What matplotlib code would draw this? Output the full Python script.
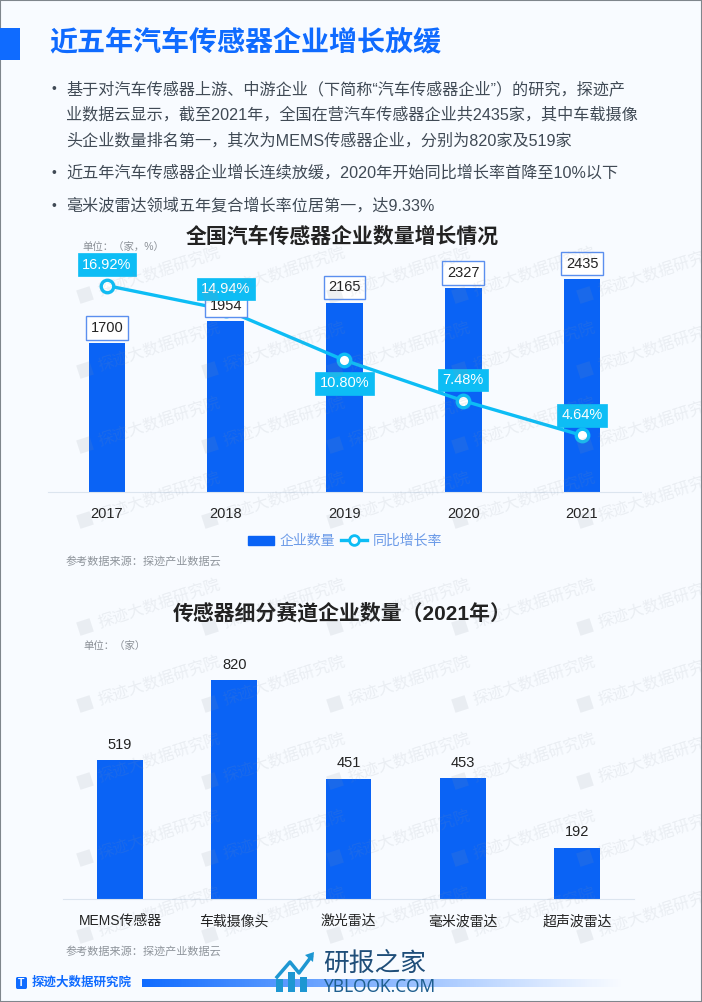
# -*- coding: utf-8 -*-
import numpy as np
from matplotlib import pyplot as plt
from matplotlib.patches import Rectangle, FancyBboxPatch, Polygon
from matplotlib.lines import Line2D
from matplotlib.transforms import Affine2D

plt.rcParams['font.family'] = ['Liberation Sans', 'Noto Sans CJK SC', 'DejaVu Sans']

page_title = '近五年汽车传感器企业增长放缓'
bullets = ['基于对汽车传感器上游、中游企业（下简称“汽车传感器企业”）的研究，探迹产',
           '业数据云显示，截至2021年，全国在营汽车传感器企业共2435家，其中车载摄像',
           '头企业数量排名第一，其次为MEMS传感器企业，分别为820家及519家',
           '近五年汽车传感器企业增长连续放缓，2020年开始同比增长率首降至10%以下',
           '毫米波雷达领域五年复合增长率位居第一，达9.33%']
years = ['2017', '2018', '2019', '2020', '2021']
firm_count = [1700, 1954, 2165, 2327, 2435]
growth_rate = [16.92, 14.94, 10.80, 7.48, 4.64]
segments = ['MEMS传感器', '车载摄像头', '激光雷达', '毫米波雷达', '超声波雷达']
segment_count = [519, 820, 451, 453, 192]

BLUE = '#0A63F5'
CYAN = '#0DBDF5'
BG = '#F8FBFF'
W, H = 702, 1002


def fx(x):
    return x / W


def fy(y):
    return 1 - y / H


def axes_px(left, top, right, bottom):
    return fig.add_axes([fx(left), fy(bottom), (right - left) / W, (bottom - top) / H])


fig = plt.figure(figsize=(W / 100, H / 100), dpi=100, facecolor=BG)

# page border and header
fig.add_artist(Rectangle((0, 0), 1, 1, transform=fig.transFigure, fill=False, ec='#7F868C', lw=1.5))
fig.add_artist(Rectangle((0, fy(60)), fx(20), 32 / H, transform=fig.transFigure, color='#0F6BFF', lw=0))
fig.text(fx(49), fy(43), page_title, fontsize=20.2, fontweight='bold', color='#0F6BFF', va='center')

bullet_y = [89, 115, 141, 173, 206]
for i, line in enumerate(bullets):
    fig.text(fx(66), fy(bullet_y[i]), line, fontsize=11.6, color='#404A55', va='center')
    if i not in (1, 2):
        fig.text(fx(52), fy(bullet_y[i]), '•', fontsize=10, color='#404A55', va='center')

# chart 1
ax = axes_px(47.6, 240, 641.4, 492)
ax.patch.set_alpha(0)
x = np.arange(len(years))
bars = ax.bar(x, firm_count, width=0.31, color=BLUE, label='企业数量')
ax.set_xlim(-0.5, 4.5)
ax.set_ylim(0, 2880)
ax.set_xticks(x)
ax.set_xticklabels(years, fontsize=10.5, color='#222222')
ax.tick_params(length=0, pad=11)
ax.set_yticks([])
for s in ['top', 'left', 'right']:
    ax.spines[s].set_visible(False)
ax.spines['bottom'].set_color('#DCE5EF')

ax2 = ax.twinx()
ax2.patch.set_alpha(0)
ax2.set_ylim(0, 20.66)
ax2.set_yticks([])
for s in ax2.spines.values():
    s.set_visible(False)
ax2.plot(x, growth_rate, color=CYAN, lw=2.4, marker='o', ms=9, mfc='white', mec=CYAN, mew=2.4,
         zorder=2, label='同比增长率')

for i, v in enumerate(firm_count):
    ax2.annotate(str(v), (x[i], v), xycoords=ax.transData, xytext=(0, 11), textcoords='offset points',
                 ha='center', va='center', fontsize=10.5, color='#222222', zorder=4,
                 bbox=dict(boxstyle='square,pad=0.32', fc='white', ec='#5B8FEF', lw=1))
pct_offset = [15, 15, -16.5, 15, 14.5]
for i, v in enumerate(growth_rate):
    ax2.annotate('%.2f%%' % v, (x[i], v), xytext=(0, pct_offset[i]), textcoords='offset points',
                 ha='center', va='center', fontsize=10.5, color='white', zorder=5,
                 bbox=dict(boxstyle='square,pad=0.3', fc=CYAN, ec=CYAN, lw=0.5))

handles = [Rectangle((0, 0), 1, 1, color=BLUE),
           Line2D([], [], color=CYAN, lw=2.4, marker='o', ms=7, mfc='white', mec=CYAN, mew=2)]
fig.legend(handles, ['企业数量', '同比增长率'], loc='center', bbox_to_anchor=(fx(345), fy(541)), ncol=2,
           frameon=False, fontsize=10, labelcolor='#6C9BE8', handlelength=1.9, handletextpad=0.4,
           columnspacing=0.4, handleheight=0.6)

fig.text(fx(342), fy(237), '全国汽车传感器企业数量增长情况', fontsize=15, fontweight='bold',
         color='#222222', ha='center', va='center', zorder=6)
fig.text(fx(82), fy(247), '单位：（家，%）', fontsize=7.5, color='#8A8F96', va='center', zorder=6)
fig.text(fx(66), fy(561), '参考数据来源：探迹产业数据云', fontsize=8, color='#8E949B', va='center')

# chart 2
ax3 = axes_px(63, 650, 634, 899)
ax3.patch.set_alpha(0)
x3 = np.arange(len(segments))
ax3.bar(x3, segment_count, width=0.4, color=BLUE)
ax3.set_xlim(-0.5, 4.5)
ax3.set_ylim(0, 932)
ax3.set_xticks(x3)
ax3.set_xticklabels(segments, fontsize=10, color='#222222')
ax3.tick_params(length=0, pad=11)
ax3.set_yticks([])
for s in ['top', 'left', 'right']:
    ax3.spines[s].set_visible(False)
ax3.spines['bottom'].set_color('#DCE5EF')
for i, v in enumerate(segment_count):
    ax3.annotate(str(v), (x3[i], v), xytext=(0, 11), textcoords='offset points', ha='center',
                 va='center', fontsize=10.5, color='#222222')

fig.text(fx(342), fy(613), '传感器细分赛道企业数量（2021年）', fontsize=15, fontweight='bold',
         color='#222222', ha='center', va='center')
fig.text(fx(83), fy(646), '单位：（家）', fontsize=7.5, color='#8A8F96', va='center')
fig.text(fx(66), fy(951), '参考数据来源：探迹产业数据云', fontsize=8, color='#8E949B', va='center')

# watermarks
for wy in [295, 370, 445, 520, 627, 704, 781, 858, 935]:
    for wx in [85, 210, 335, 460, 585]:
        fig.text(fx(wx + 13), fy(wy - 3), '探迹大数据研究院', fontsize=11.5, color='#8A94A0', alpha=0.13,
                 rotation=18, rotation_mode='anchor', ha='left', va='center', zorder=3)
        tr = Affine2D().rotate_deg_around(wx, wy, -18).scale(1 / W, -1 / H).translate(0, 1) + fig.transFigure
        fig.add_artist(Rectangle((wx - 7, wy - 7), 14, 14, transform=tr, color='#8A94A0', alpha=0.13, lw=0, zorder=3))

# footer
fig.add_artist(FancyBboxPatch((fx(16), fy(989)), 11 / W, 12 / H, boxstyle='round,pad=0,rounding_size=0.002',
                              transform=fig.transFigure, color='#0F6BFF', lw=0))
fig.text(fx(21.5), fy(983), 'T', fontsize=7.5, fontweight='bold', color='white', ha='center', va='center')
fig.text(fx(32), fy(983), '探迹大数据研究院', fontsize=9, fontweight='bold', color='#0F6BFF', va='center')

grad = axes_px(142, 979, 625, 987)
grad.axis('off')
col = np.zeros((1, 256, 4))
col[..., 0] = 15 / 255
col[..., 1] = 107 / 255
col[..., 2] = 1
col[..., 3] = np.linspace(1, 0, 256) ** 1.1
img = grad.imshow(col, aspect='auto', extent=(0, 1, 0, 1))

# site stamp
fig.text(fx(323), fy(964), '研报之家', fontsize=18.5, color='#1F4E79', va='center', zorder=7)
fig.text(fx(323), fy(987), 'YBLOOK.COM', fontsize=12.5, color='#1F5F8F', va='center', zorder=7,
         family=['Noto Sans', 'DejaVu Sans'])
stamp = axes_px(272, 950, 322, 996)
stamp.axis('off')
stamp.set_xlim(272, 322)
stamp.set_ylim(996, 950)
stamp.patch.set_alpha(0)
stamp.add_patch(Rectangle((276, 979), 7, 13, color='#1E97D2', lw=0))
stamp.add_patch(Rectangle((288, 972), 7, 20, color='#1E97D2', lw=0))
stamp.add_patch(Rectangle((300, 977), 7, 15, color='#1E97D2', lw=0))
stamp.plot([277, 290, 299, 311], [977, 962, 973, 957], color='#1E97D2', lw=2.5)
stamp.add_patch(Polygon([[305, 955], [314, 952], [313, 962]], color='#1E97D2', lw=0))

fig.savefig('out.png', dpi=100, facecolor=fig.get_facecolor())
